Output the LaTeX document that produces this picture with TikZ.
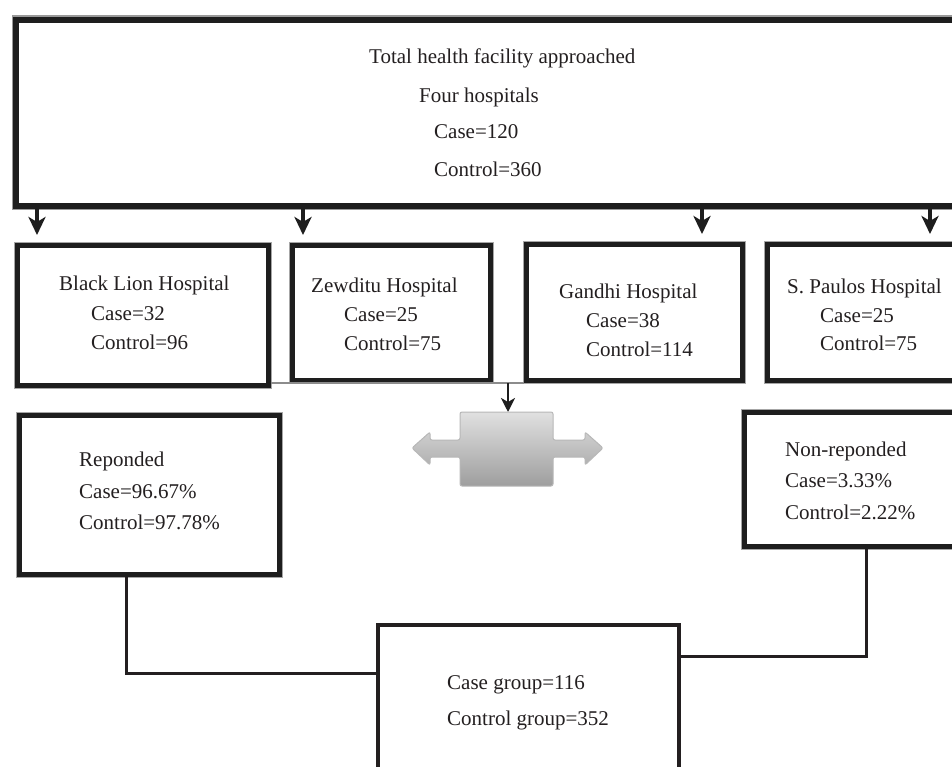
\documentclass[tikz,border=0pt]{standalone}
\usepackage{fontspec}
\setmainfont{Liberation Serif}
\usetikzlibrary{arrows.meta}
\definecolor{ink}{HTML}{231F20}
\definecolor{edge}{HTML}{1E1E1E}
\tikzset{
 every node/.style={font=\fontsize{21}{25}\selectfont, text=ink},
 txt/.style={anchor=base west, inner sep=0pt},
 frame/.style={rectangle, inner sep=0pt, anchor=north west, fill=white, draw=edge, line width=4.5pt, preaction={draw=black!35, line width=7pt}},
 bigframe/.style={rectangle, inner sep=0pt, anchor=north west, fill=white, draw=edge, line width=6pt, preaction={draw=black!40, line width=9pt}},
 thinframe/.style={rectangle, inner sep=0pt, anchor=north west, draw=ink, line width=3.5pt},
 conn/.style={draw=ink, line width=3pt},
 downarr/.style={draw=edge, line width=3.5pt, -{Stealth[length=18pt,width=17pt,inset=5pt]}},
 smallarr/.style={draw=edge, line width=2.5pt, -{Stealth[length=14pt,width=14pt,inset=4pt]}},
}
\begin{document}
\begin{tikzpicture}[x=1pt,y=-1pt]
\useasboundingbox (0,0) rectangle (952,767);
\clip (0,0) rectangle (952,767);
\fill[white] (0,0) rectangle (952,767);

% top box
\node[bigframe, minimum width=962pt, minimum height=186pt] (top) at (13,17) {};
\node[txt] (t1) at (369,64) {Total health facility approached};
\node[txt] (t2) at (419,103) {Four hospitals};
\node[txt] (t3) at (434,139) {Case=120};
\node[txt] (t4) at (434,177) {Control=360};

% hospital boxes
\node[frame, minimum width=251pt, minimum height=140pt] (bl) at (15,243) {};
\node[frame, minimum width=198pt, minimum height=135pt] (zw) at (290,243) {};
\node[frame, minimum width=216pt, minimum height=136pt] (gd) at (524,242) {};
\node[frame, minimum width=210pt, minimum height=136pt] (sp) at (765,242) {};

\node[txt] (bl1) at (59,290) {Black Lion Hospital};
\node[txt] (bl2) at (91,320) {Case=32};
\node[txt] (bl3) at (91,349) {Control=96};

\node[txt] (zw1) at (311,292) {Zewditu Hospital};
\node[txt] (zw2) at (344,321) {Case=25};
\node[txt] (zw3) at (344,350) {Control=75};

\node[txt] (gd1) at (559,298) {Gandhi Hospital};
\node[txt] (gd2) at (586,327) {Case=38};
\node[txt] (gd3) at (586,356) {Control=114};

\node[txt] (sp1) at (787,293) {S. Paulos Hospital};
\node[txt] (sp2) at (820,322) {Case=25};
\node[txt] (sp3) at (820,350) {Control=75};

% arrows from top box
\coordinate (a1) at (37,0);
\coordinate (a2) at (303,0);
\coordinate (a3) at (702,0);
\coordinate (a4) at (930,0);
\draw[downarr, shorten >=8pt] (top.south -| a1) -- (bl.north -| a1);
\draw[downarr, shorten >=8pt] (top.south -| a2) -- (zw.north -| a2);
\draw[downarr, shorten >=8pt] (top.south -| a3) -- (gd.north -| a3);
\draw[downarr, shorten >=8pt] (top.south -| a4) -- (sp.north -| a4);

% thin grey line and small arrow
\coordinate (g) at (0,383);
\draw[line width=1.2pt, draw=black!45] (bl.east |- g) -- (gd.west |- g);
\coordinate (m0) at (508,383);
\coordinate (mtop) at (508,412);
\draw[smallarr] (m0) -- (mtop);

% grey double arrow shape
\shade[top color=black!12, bottom color=black!38, draw=black!28, line width=1pt, rounded corners=2pt]
 (460,412) -- (553,412) -- (553,440) -- (585,440) -- (585,432) -- (603,448) -- (585,465)
 -- (585,457) -- (553,457) -- (553,486) -- (460,486) -- (460,457) -- (430,457)
 -- (430,465) -- (412,448) -- (430,432) -- (430,440) -- (460,440) -- cycle;

% responded / non-responded
\node[frame, minimum width=260pt, minimum height=159pt] (rep) at (17,413) {};
\node[txt] (rep1) at (79,466) {Reponded};
\node[txt] (rep2) at (79,498) {Case=96.67\%};
\node[txt] (rep3) at (79,529) {Control=97.78\%};

\node[frame, minimum width=233pt, minimum height=134pt] (nr) at (742,410) {};
\node[txt] (nr1) at (785,456) {Non-reponded};
\node[txt] (nr2) at (785,487) {Case=3.33\%};
\node[txt] (nr3) at (785,519) {Control=2.22\%};

% bottom box
\node[thinframe, minimum width=301pt, minimum height=170pt] (bot) at (376,623) {};
\node[txt] (b1) at (447,689) {Case group=116};
\node[txt] (b2) at (447,725) {Control group=352};

% connectors
\coordinate (j1) at (126,673);
\coordinate (j2) at (866,656);
\draw[conn] (rep.south -| j1) -- (j1) -- (bot.west |- j1);
\draw[conn] (nr.south -| j2) -- (j2) -- (bot.east |- j2);
\end{tikzpicture}
\end{document}
